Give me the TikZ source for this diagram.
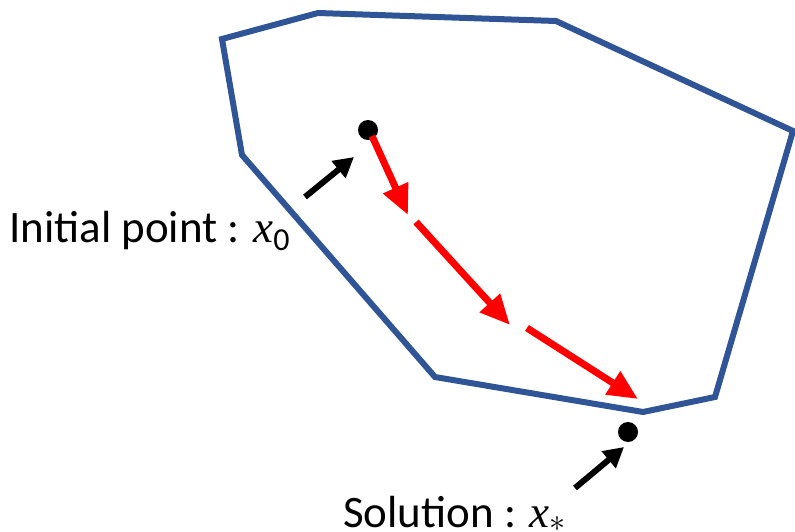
\documentclass[tikz,border=0pt]{standalone}
\usepackage{fix-cm}
\usepackage{fontspec}
\setmainfont{Carlito}
\newfontfamily\xfont{Liberation Serif}
\usetikzlibrary{arrows.meta}
\definecolor{polyblue}{RGB}{47,85,151}
\newcommand{\varx}{{\xfont\itshape x}}
\begin{document}
\begin{tikzpicture}[x=1pt,y=-1pt,
  region/.style={draw=polyblue,line width=6pt,line join=miter},
  dotpt/.style={circle,fill=black,inner sep=0pt,minimum size=20pt},
  stepred/.style={draw=red,line width=7pt,-{Triangle[length=30pt,width=26pt]}},
  pointer/.style={draw=black,line width=6pt,-{Triangle[length=20pt,width=21pt]}},
  lbl/.style={font=\fontsize{45}{50}\selectfont,inner sep=0pt}]
\useasboundingbox (0,0) rectangle (795,532);
\clip (0,0) rectangle (795,532);
% feasible region
\draw[region] (222,39) -- (318,13) -- (556,21) -- (793,131) -- (715,397)
  -- (643,412) -- (435,377) -- (242,155) -- cycle;
% points
\node[dotpt] (x0) at (368,130) {};
\node[dotpt] (xs) at (628,432) {};
% iterate coordinates
\coordinate (a1) at (408,215);
\coordinate (b2) at (416,222);
\coordinate (a2) at (510,325);
\coordinate (b3) at (527,328);
\coordinate (a3) at (638,399);
\draw[stepred] (x0.center) ++(4,6) -- (a1);
\draw[stepred] (b2) -- (a2);
\draw[stepred] (b3) -- (a3);
% labels
\node[lbl,anchor=base west] (init) at (9,242)
  {Initial point : \varx\raisebox{-8pt}{\fontsize{32}{32}\selectfont 0}};
\node[lbl,anchor=base west] (sol) at (343,527)
  {Solution : \varx\raisebox{-4pt}{\fontsize{32}{32}\selectfont$\ast$}};
% pointers
\coordinate (t1) at (305,197);
\coordinate (h1) at (354,157);
\coordinate (t2) at (575,488);
\coordinate (h2) at (624,447);
\draw[pointer] (t1) -- (h1);
\draw[pointer] (t2) -- (h2);
\end{tikzpicture}
\end{document}
